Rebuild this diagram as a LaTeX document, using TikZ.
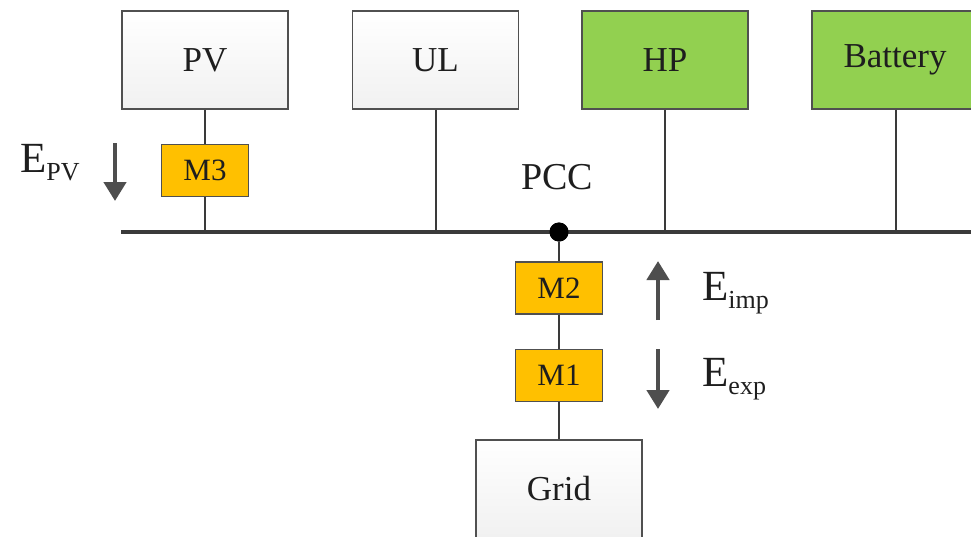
\documentclass[tikz,border=0pt]{standalone}
\usepackage{fontspec}
\setmainfont{Liberation Serif}
\usetikzlibrary{arrows.meta}
\definecolor{boxgray}{HTML}{F3F3F3}
\definecolor{edge}{HTML}{505050}
\definecolor{linec}{HTML}{3A3A3A}
\definecolor{greenc}{HTML}{92D050}
\definecolor{orangec}{HTML}{FFC000}
\definecolor{txt}{HTML}{1E1E1E}
\tikzset{
  big/.style={draw=edge, line width=1.8pt, minimum width=166pt, minimum height=98pt, inner sep=0pt,
    font=\fontsize{35}{35}\selectfont, text=txt,
    top color=white, bottom color=boxgray!90!gray!60},
  greenbox/.style={big, top color=greenc, bottom color=greenc, fill=greenc},
  meter/.style={draw=edge, line width=1.6pt, fill=orangec, minimum width=87pt, minimum height=52pt,
    inner sep=0pt, font=\fontsize{31}{31}\selectfont, text=txt},
  wire/.style={draw=linec, line width=2pt},
  bus/.style={draw=linec, line width=4.5pt},
  flow/.style={draw=linec!90!white, line width=4.5pt, -{Triangle[width=22pt,length=19pt]}},
  elabel/.style={font=\fontsize{43}{43}\selectfont, text=txt, inner sep=0pt}
}
\newcommand{\subtxt}[1]{{\fontsize{26}{26}\selectfont\raisebox{-8pt}{#1}}}
\begin{document}
\begin{tikzpicture}[x=1pt,y=-1pt]
\useasboundingbox (0,0) rectangle (971,536);
\clip (0,0) rectangle (971,536);
% boxes
\node[big] (pv) at (205,60) {PV};
\node[big] (ul) at (435.5,60) {UL};
\node[greenbox] (hp) at (665,60) {HP};
\node[greenbox] (bat) at (895,60) {Battery};
\node[big] (grid) at (559,489) {Grid};
% meters
\node[meter] (m3) at (205,170.5) {M3};
\node[meter] (m2) at (559,288) {M2};
\node[meter] (m1) at (559,375.5) {M1};
% bus
\coordinate (busL) at (121,232);
\coordinate (busR) at (975,232);
\coordinate (jpv) at (205,232);
\coordinate (jul) at (435.5,232);
\coordinate (jhp) at (665,232);
\coordinate (jbat) at (896,232);
\node[circle, fill=black, minimum size=19pt, inner sep=0pt] (pcc) at (559,232) {};
\node[font=\fontsize{38}{38}\selectfont, text=txt] (pcclab) at (557,177) {PCC};
% wires
\draw[wire] (pv.south) -- (m3.north);
\draw[wire] (m3.south) -- (jpv);
\draw[wire] (ul.south) -- (jul);
\draw[wire] (hp.south) -- (jhp);
\draw[wire] (bat.south -| jbat) -- (jbat);
\draw[wire] (pcc) -- (m2.north);
\draw[wire] (m2.south) -- (m1.north);
\draw[wire] (m1.south) -- (grid.north);
\draw[bus] (busL) -- (busR);
\node[circle, fill=black, minimum size=19pt, inner sep=0pt] at (pcc) {};
% flow arrows
\coordinate (a1s) at (115,143);
\coordinate (a1e) at (115,201);
\coordinate (a2s) at (658,320);
\coordinate (a2e) at (658,261);
\coordinate (a3s) at (658,349);
\coordinate (a3e) at (658,409);
\draw[flow] (a1s) -- (a1e);
\draw[flow] (a2s) -- (a2e);
\draw[flow] (a3s) -- (a3e);
% labels
\node[elabel, anchor=west] (epv) at (20,163) {E\subtxt{PV}};
\node[elabel, anchor=west] (eimp) at (702,293) {E\subtxt{imp}};
\node[elabel, anchor=west] (eexp) at (702,379) {E\subtxt{exp}};
\end{tikzpicture}
\end{document}
